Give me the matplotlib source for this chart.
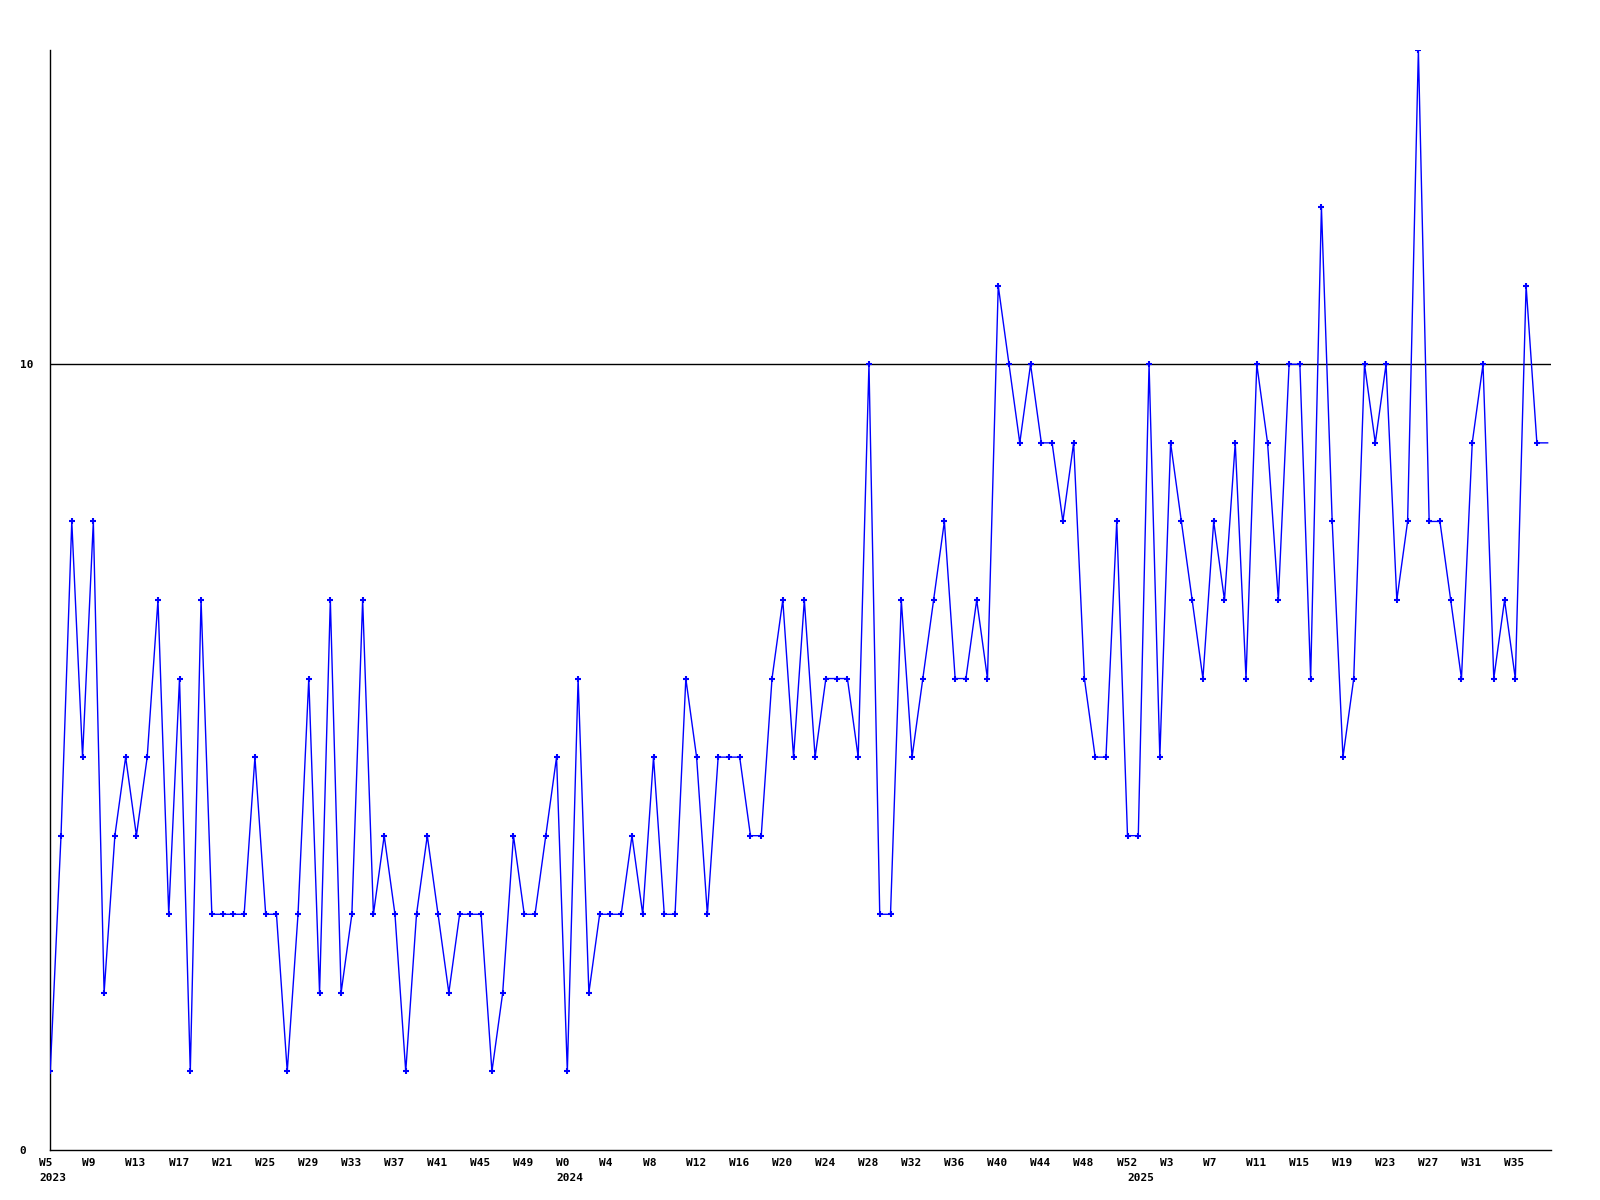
import matplotlib
matplotlib.use("Agg")
import matplotlib.pyplot as plt
import matplotlib.transforms as mtransforms

# weekly counts
counts_2023 = [1, 4, 8, 5, 8, 2, 4, 5, 4, 5, 7, 3, 6, 1, 7, 3, 3, 3, 3, 5, 3, 3, 1, 3,
               6, 2, 7, 2, 3, 7, 3, 4, 3, 1, 3, 4, 3, 2, 3, 3, 3, 1, 2, 4, 3, 3, 4, 5]
counts_2024 = [1, 6, 2, 3, 3, 3, 4, 3, 5, 3, 3, 6, 5, 3, 5, 5, 5, 4, 4, 6, 7, 5, 7, 5,
               6, 6, 6, 5, 10, 3, 3, 7, 5, 6, 7, 8, 6, 6, 7, 6, 11, 10, 9, 10, 9, 9,
               8, 9, 6, 5, 5, 8, 4]
counts_2025 = [4, 10, 5, 9, 8, 7, 6, 8, 7, 9, 6, 10, 9, 7, 10, 10, 6, 12, 8, 5, 6, 10,
               9, 10, 7, 8, 14, 8, 8, 7, 6, 9, 10, 6, 7, 6, 11, 9, 9]

weeks_2023 = list(range(5, 53))
weeks_2024 = list(range(0, 53))
weeks_2025 = list(range(0, 39))
years = ["2023", "2024", "2025"]

counts = counts_2023 + counts_2024 + counts_2025
weeks = weeks_2023 + weeks_2024 + weeks_2025
x = list(range(len(counts)))
year_starts = [0, len(weeks_2023), len(weeks_2023) + len(weeks_2024)]

fig = plt.figure(figsize=(16, 12), dpi=100)
ax = fig.add_axes([0.0314, 0.0417, 0.9379, 0.9166])

# last week is still running: no marker, line runs off the edge
ax.plot(x, counts, color="#0000ff", linewidth=1.0, marker="+", markersize=5,
        markeredgewidth=1.5, markevery=list(range(len(counts) - 1)), zorder=3)
ax.axhline(10, color="black", linewidth=1.0, zorder=2)

ax.set_xlim(0, len(counts) - 0.7)
ax.set_ylim(0, 14)

for s in ["top", "right"]:
    ax.spines[s].set_visible(False)
for s in ["left", "bottom"]:
    ax.spines[s].set_linewidth(1.0)

font = dict(family="DejaVu Sans Mono", weight="bold", size=8)

ticks = list(range(0, len(counts), 4))
ax.set_xticks(ticks)
ax.set_xticklabels(["W%d" % weeks[t] for t in ticks], ha="left", **font)
ax.tick_params(axis="x", length=0, pad=6)

ax.set_yticks([0, 10])
ax.set_yticklabels(["0", "10"], ha="left", **font)
ax.tick_params(axis="y", length=0, pad=22)

shift = mtransforms.ScaledTranslation(-11 / 100, 0, fig.dpi_scale_trans)
for lab in ax.get_xticklabels():
    lab.set_transform(lab.get_transform() + shift)

# year under the first week of each year
ytrans = mtransforms.blended_transform_factory(ax.transData, ax.transAxes) + \
    mtransforms.ScaledTranslation(-11 / 100, -23 / 100, fig.dpi_scale_trans)
for pos, yr in zip(year_starts, years):
    ax.text(pos, 0, yr, transform=ytrans, ha="left", va="top", **font)

fig.savefig("out.png", dpi=100)
